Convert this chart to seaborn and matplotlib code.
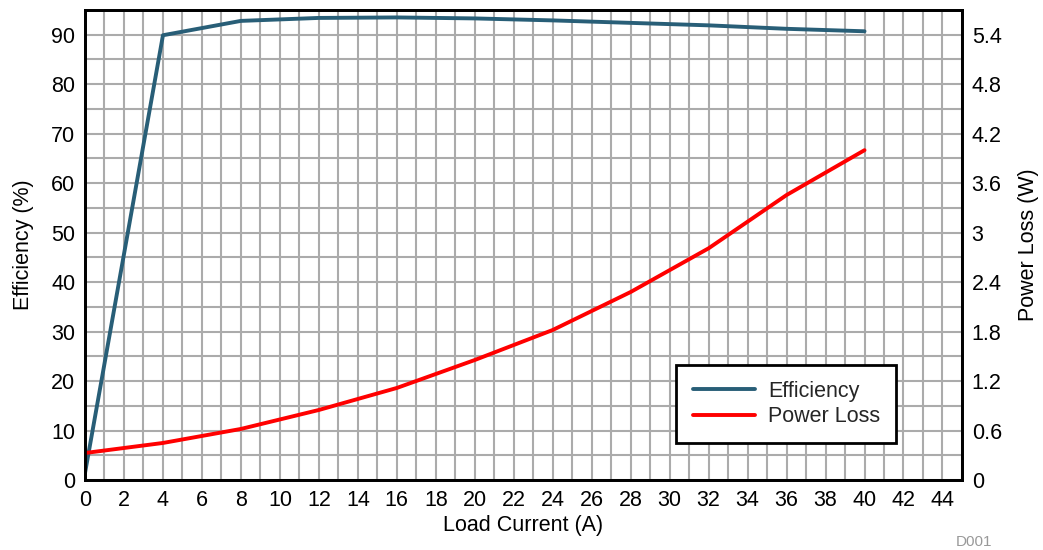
import numpy as np
import pandas as pd
import matplotlib
matplotlib.use("Agg")
import matplotlib.pyplot as plt
from matplotlib.ticker import MultipleLocator, FuncFormatter
from matplotlib.lines import Line2D
import seaborn as sns

# Measured converter performance vs load current
load_current = [0, 4, 8, 12, 16, 20, 24, 28, 32, 36, 40]
efficiency = [1.4, 89.9, 92.8, 93.4, 93.5, 93.3, 92.9, 92.4, 91.9, 91.2, 90.7]
power_loss = [0.327, 0.449, 0.619, 0.849, 1.116, 1.455, 1.819, 2.28, 2.81, 3.456, 4.00]

eff_color = "#285E77"
loss_color = "#FF0000"
fs = 15.5

sns.set_theme(style="white")
plt.rcParams["font.family"] = ["Liberation Sans", "DejaVu Sans"]

df = pd.DataFrame({"current": load_current, "eff": efficiency, "loss": power_loss})

fig = plt.figure(figsize=(10.43, 5.5), dpi=100)
ax = fig.add_axes([0.0815, 0.1273, 0.8408, 0.8545])
ax2 = ax.twinx()

sns.lineplot(data=df, x="current", y="eff", ax=ax, color=eff_color, linewidth=2.8)
sns.lineplot(data=df, x="current", y="loss", ax=ax2, color=loss_color, linewidth=2.8)

ax.set_xlim(0, 45)
ax.set_ylim(0, 95)
ax2.set_ylim(0, 5.7)

ax.xaxis.set_major_locator(MultipleLocator(2))
ax.xaxis.set_minor_locator(MultipleLocator(1))
ax.yaxis.set_major_locator(MultipleLocator(10))
ax.yaxis.set_minor_locator(MultipleLocator(5))
ax2.yaxis.set_major_locator(MultipleLocator(0.6))
ax2.yaxis.set_major_formatter(FuncFormatter(lambda v, p: f"{round(v, 1):g}"))

ax.set_axisbelow(True)
ax.grid(True, which="both", color="#ABABAB", linewidth=1.5)
ax2.grid(False)

for a in (ax, ax2):
    a.tick_params(axis="both", which="both", length=0, labelsize=fs,
                  colors="black", pad=7)
    for s in a.spines.values():
        s.set_color("black")
        s.set_linewidth(2)

ax.set_xlabel("Load Current (A)", fontsize=fs, color="black", labelpad=3)
ax.set_ylabel("Efficiency (%)", fontsize=fs, color="black", labelpad=12)
ax2.set_ylabel("Power Loss (W)", fontsize=fs, color="black", labelpad=12)

handles = [Line2D([], [], color=eff_color, linewidth=2.8),
           Line2D([], [], color=loss_color, linewidth=2.8)]
leg = ax2.legend(handles, ["Efficiency", "Power Loss"], loc="lower right",
                 bbox_to_anchor=(0.925, 0.078), fontsize=fs, frameon=True,
                 fancybox=False, framealpha=1, edgecolor="black",
                 handlelength=2.9, handletextpad=0.6, borderpad=0.75,
                 labelspacing=0.2, borderaxespad=0)
leg.get_frame().set_linewidth(2)

fig.text(0.916, 0.008, "D001", fontsize=11, color="#999999")

fig.savefig("out.png", dpi=100)
